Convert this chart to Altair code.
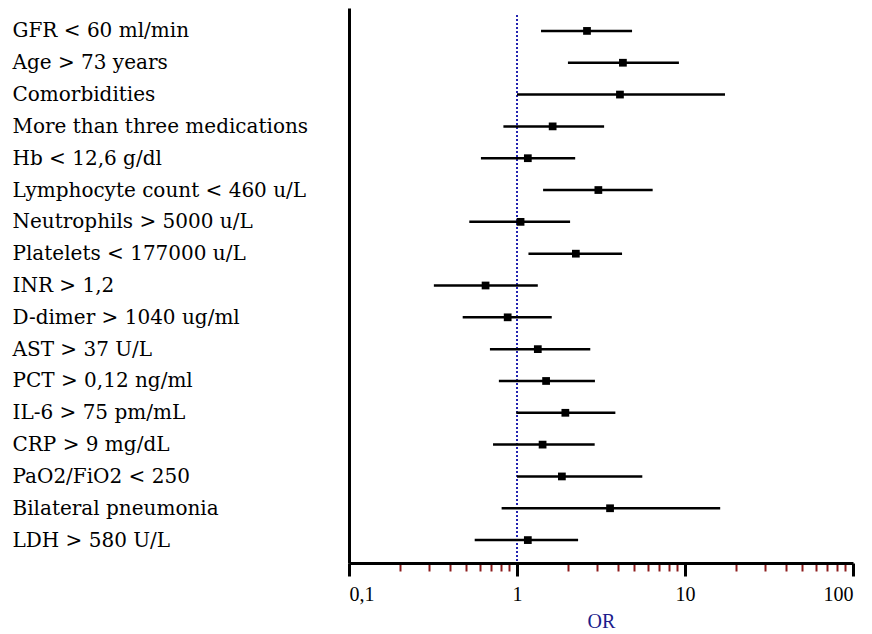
import altair as alt
import pandas as pd

variables = [
    "GFR < 60 ml/min", "Age > 73 years", "Comorbidities", "More than three medications",
    "Hb < 12,6 g/dl", "Lymphocyte count < 460 u/L", "Neutrophils > 5000 u/L",
    "Platelets < 177000 u/L", "INR > 1,2", "D-dimer > 1040 ug/ml", "AST > 37 U/L",
    "PCT > 0,12 ng/ml", "IL-6 > 75 pm/mL", "CRP > 9 mg/dL", "PaO2/FiO2 < 250",
    "Bilateral pneumonia", "LDH > 580 U/L",
]
odds_ratio = [2.61, 4.27, 4.10, 1.63, 1.16, 3.05, 1.05, 2.24, 0.65, 0.88, 1.33, 1.49, 1.94, 1.42, 1.85, 3.58, 1.16]
ci_low = [1.39, 2.01, 1.00, 0.83, 0.61, 1.43, 0.52, 1.17, 0.32, 0.475, 0.69, 0.78, 0.99, 0.72, 1.00, 0.81, 0.56]
ci_high = [4.84, 9.2, 17.3, 3.3, 2.22, 6.42, 2.07, 4.22, 1.33, 1.61, 2.73, 2.91, 3.85, 2.9, 5.57, 16.2, 2.31]

major_ticks = [0.1, 1, 10, 100]
minor_ticks = [m * d for d in [0.1, 1, 10] for m in range(2, 10)]
all_ticks = sorted(major_ticks + minor_ticks)

df = pd.DataFrame({"var": variables, "or": odds_ratio, "lo": ci_low, "hi": ci_high})

LABEL_FONT = "DejaVu Serif"
FONT = "Liberation Serif"
W, H = 504, 555

major_list = "[" + ",".join(str(v) for v in major_ticks) + "]"
is_major = f"indexof({major_list}, datum.value) >= 0"

x_scale = alt.Scale(type="log", domain=[0.1, 100], nice=False)
y_scale = alt.Scale(type="point", padding=0.72)

x_axis = alt.Axis(
    values=all_ticks,
    labelExpr=f"datum.value == 0.1 ? '0,1' : ({is_major} ? toString(datum.value) : '')",
    tickColor={"condition": {"test": is_major, "value": "black"}, "value": "#8b1a1a"},
    tickSize={"condition": {"test": is_major, "value": 13}, "value": 8},
    tickWidth={"condition": {"test": is_major, "value": 3}, "value": 2},
    domainColor="black", domainWidth=3, grid=False,
    labelFont=FONT, labelFontSize=20, labelColor="black", labelPadding=8,
    title="OR", titleFont=FONT, titleFontSize=20, titleFontWeight="normal",
    titleColor="#1c1c8c", titlePadding=7,
)
y_axis = alt.Axis(
    title=None, ticks=False, domainColor="black", domainWidth=3,
    labelAlign="left", labelPadding=337, labelFont=LABEL_FONT, labelFontSize=20,
    labelColor="black", labelLimit=0, grid=False,
)

base = alt.Chart(df)

whiskers = base.mark_rule(color="black", strokeWidth=2.5).encode(
    x=alt.X("lo:Q", scale=x_scale, axis=x_axis),
    x2="hi:Q",
    y=alt.Y("var:N", sort=variables, scale=y_scale, axis=y_axis),
)
points = base.mark_square(color="black", size=60, opacity=1).encode(
    x=alt.X("or:Q", scale=x_scale),
    y=alt.Y("var:N", sort=variables, scale=y_scale),
)
ref = alt.Chart(pd.DataFrame({"ref": [1]})).mark_rule(
    color="#2323b0", strokeWidth=2, strokeDash=[2, 2]
).encode(
    x=alt.X("ref:Q", scale=x_scale),
    y=alt.value(7),
    y2=alt.value(H),
)

chart = alt.layer(ref, whiskers, points).properties(
    width=W, height=H, background="white",
    padding={"left": 4, "top": 0, "right": 5, "bottom": 0},
).configure_view(stroke=None, strokeWidth=0)

chart.save("out.html", embed_options={"renderer": "svg", "actions": False})
